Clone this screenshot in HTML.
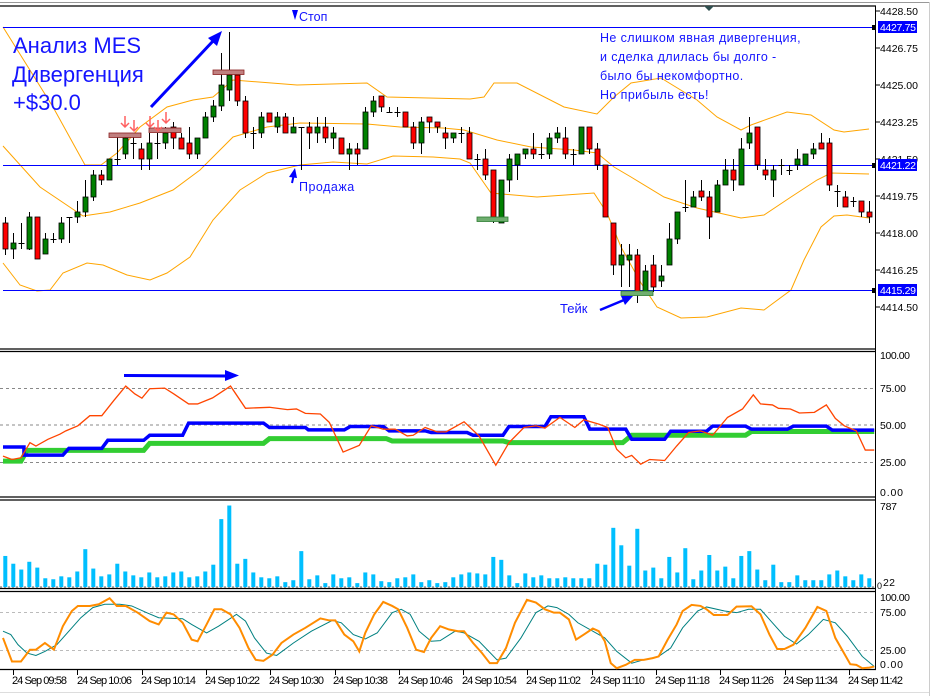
<!DOCTYPE html>
<html><head><meta charset="utf-8"><style>
html,body{margin:0;padding:0;background:#fff;width:934px;height:696px;overflow:hidden}
svg{display:block;font-family:"Liberation Sans","DejaVu Sans",sans-serif}
.ax{font-size:10.5px;fill:#000}
.tl{font-size:11px;fill:#000}
.ns{vector-effect:non-scaling-stroke}
</style></head><body>
<svg id="s" width="934" height="696" viewBox="0 0 934 696" xmlns="http://www.w3.org/2000/svg">
<rect width="934" height="696" fill="#fff"/>
<line x1="0" y1="2.5" x2="929" y2="2.5" stroke="#999" stroke-width="1"/>
<line x1="929.5" y1="2" x2="929.5" y2="696" stroke="#ccc" stroke-width="1"/>
<line x1="0" y1="692.5" x2="929" y2="692.5" stroke="#ddd" stroke-width="1"/>
<!-- frames -->
<line x1="0" y1="6" x2="876" y2="6" stroke="#000" stroke-width="1.2"/>
<line x1="875.5" y1="6" x2="875.5" y2="670" stroke="#000" stroke-width="1"/>
<line x1="0" y1="349" x2="876" y2="349" stroke="#000" stroke-width="1.2"/>
<line x1="0" y1="351.5" x2="876" y2="351.5" stroke="#000" stroke-width="1.2"/>
<line x1="0" y1="497" x2="876" y2="497" stroke="#000" stroke-width="1.2"/>
<line x1="0" y1="500" x2="876" y2="500" stroke="#000" stroke-width="1.2"/>
<line x1="0" y1="588.5" x2="876" y2="588.5" stroke="#000" stroke-width="1.2"/>
<line x1="0" y1="591.5" x2="876" y2="591.5" stroke="#000" stroke-width="1.2"/>
<line x1="0" y1="669.5" x2="876" y2="669.5" stroke="#000" stroke-width="1.2"/>
<polygon points="704,6 714,6 709,11" fill="#2f4f4f"/>

<!-- bollinger -->
<g fill="none" stroke="#ffa500" stroke-width="1">
<polyline points="3,27 53,107 85,165 101,165 117,153 140,127 167,107 193,100 213,97 233,80 297,85 367,83 387,97 470,99 484,97 494,83 517,83 564,107 597,114 614,97 631,83 661,78 697,100 717,117 741,130 751,125 787,112 811,115 834,130 844,132 869,129"/>
<polyline points="3,146 40,187 83,216 110,212 140,203 173,190 200,170 233,137 267,127 300,123 367,124 400,127 443,128 464,130 497,140 531,147 574,150 597,153 614,167 631,177 664,197 697,208 741,218 764,215 791,197 817,180 831,173 869,174"/>
<polyline points="3,263 20,285 37,291 50,290 63,273 87,263 103,265 127,275 150,280 167,273 190,257 213,220 240,190 267,173 300,165 333,162 367,164 393,156 433,157 460,159 470,163 491,193 537,197 594,193 607,213 621,247 641,283 657,307 681,318 707,317 741,308 764,310 791,290 804,260 821,227 834,216 847,215 869,218"/>
</g>
<!-- horizontal levels -->
<g stroke="#0000ff" stroke-width="1">
<line x1="3" y1="27.5" x2="876" y2="27.5"/>
<line x1="3" y1="165.5" x2="876" y2="165.5"/>
<line x1="3" y1="290.5" x2="876" y2="290.5"/>
</g>
<g fill="#000"><rect x="872" y="25" width="4" height="5"/><rect x="872" y="163" width="4" height="5"/><rect x="872" y="288" width="4" height="5"/></g>

<g id="candles"></g>

<!-- boxes -->
<rect x="109" y="133" width="32" height="4.5" fill="#c08080" stroke="#8b2020" stroke-width="0.8"/>
<rect x="149" y="128" width="32" height="4.5" fill="#c08080" stroke="#8b2020" stroke-width="0.8"/>
<rect x="213" y="70" width="31" height="4.5" fill="#c08080" stroke="#8b2020" stroke-width="0.8"/>
<rect x="477" y="217" width="31" height="4.5" fill="#6fae6f" stroke="#2e7d32" stroke-width="0.8"/>
<rect x="621" y="291" width="32" height="4.5" fill="#6fae6f" stroke="#2e7d32" stroke-width="0.8"/>

<!-- red arrows -->
<g stroke="#ff6060" stroke-width="1.5" fill="none">
<path d="M125,116 v11 M121,123 l4,4 l4,-4"/>
<path d="M134,120 v11 M130,127 l4,4 l4,-4"/>
<path d="M150,116 v11 M146,123 l4,4 l4,-4"/>
<path d="M158,120 v11 M154,127 l4,4 l4,-4"/>
<path d="M166,112 v11 M162,119 l4,4 l4,-4"/>
</g>
<!-- blue arrows -->
<g stroke="#0000ff" fill="#0000ff">
<line x1="151" y1="107" x2="214" y2="40" stroke-width="3"/>
<polygon points="222,31 208,38 217,46" stroke="none"/>
<line x1="292" y1="183" x2="294" y2="174" stroke-width="2"/>
<polygon points="295,168 289,177 297,178" stroke="none"/>
<line x1="600" y1="310" x2="624" y2="300" stroke-width="2.5"/>
<polygon points="633,296 621,296 625,305" stroke="none"/>
<line x1="124" y1="375.5" x2="226" y2="376" stroke-width="3"/>
<polygon points="239,375.5 225,370 225,381" stroke="none"/>
</g>
<polygon points="292,10 298,10 295,20" fill="#0000ff"/>

<!-- annotations -->
<g fill="#1515ff">
<text x="13" y="53" font-size="22">Анализ MES</text>
<text x="12" y="82" font-size="22">Дивергенция</text>
<text x="13" y="110" font-size="22">+$30.0</text>
<text x="299" y="21" font-size="12.5">Стоп</text>
<text x="299" y="191" font-size="12.5" letter-spacing="0.5">Продажа</text>
<text x="560" y="313" font-size="13">Тейк</text>
<g font-size="12.5" letter-spacing="0.4">
<text x="600" y="42">Не слишком явная дивергенция,</text>
<text x="600" y="61">и сделка длилась бы долго -</text>
<text x="600" y="80">было бы некомфортно.</text>
<text x="600" y="99">Но прибыль есть!</text>
</g>
</g>

<!-- price axis -->
<g class="ax" stroke="#000" stroke-width="1">
<line x1="876" y1="11" x2="880" y2="11"/><line x1="876" y1="48" x2="880" y2="48"/><line x1="876" y1="85" x2="880" y2="85"/><line x1="876" y1="122" x2="880" y2="122"/><line x1="876" y1="159" x2="880" y2="159"/><line x1="876" y1="196" x2="880" y2="196"/><line x1="876" y1="233" x2="880" y2="233"/><line x1="876" y1="270" x2="880" y2="270"/><line x1="876" y1="307" x2="880" y2="307"/>
</g>
<g class="ax" textLength="38">
<text x="880" y="15" textLength="38">4428.50</text>
<text x="880" y="52" textLength="38">4426.75</text>
<text x="880" y="89" textLength="38">4425.00</text>
<text x="880" y="126" textLength="38">4423.25</text>
<text x="880" y="163" textLength="38">4421.50</text>
<text x="880" y="200" textLength="38">4419.75</text>
<text x="880" y="237" textLength="38">4418.00</text>
<text x="880" y="274" textLength="38">4416.25</text>
<text x="880" y="311" textLength="38">4414.50</text>
</g>
<rect x="878" y="21" width="39" height="12" fill="#0000ff"/>
<rect x="878" y="159" width="39" height="12" fill="#0000ff"/>
<rect x="878" y="284" width="39" height="12" fill="#0000ff"/>
<g class="ax" style="fill:#fff">
<text x="880" y="31" textLength="36">4427.75</text>
<text x="880" y="169" textLength="36">4421.22</text>
<text x="880" y="294" textLength="36">4415.29</text>
</g>

<!-- panel 1 -->
<g stroke="#888" stroke-width="1" stroke-dasharray="3,3">
<line x1="0" y1="388.5" x2="876" y2="388.5"/>
<line x1="0" y1="425" x2="876" y2="425"/>
<line x1="0" y1="462.5" x2="876" y2="462.5"/>
<line x1="0" y1="612.5" x2="876" y2="612.5" stroke="#bbb"/>
<line x1="0" y1="650.5" x2="876" y2="650.5" stroke="#bbb"/>
<line x1="0" y1="587" x2="876" y2="587" stroke="#666" stroke-dasharray="2,2"/>
</g>
<g transform="translate(0,345) scale(0.5988,0.3367)" fill="none">
<polyline class="ns" stroke="#32cd32" stroke-width="5" points="5,345 35,345 45,313 240,313 250,292 440,292 450,278 645,278 655,285 840,285 850,290 1040,290 1055,268 1245,268 1255,257 1460,257"/>
<polyline class="ns" stroke="#0000ff" stroke-width="3.5" points="5,303 40,303 40,327 105,327 115,307 170,307 180,283 240,283 250,268 305,268 315,232 440,232 450,245 510,245 515,252 575,252 585,242 640,242 650,255 710,255 720,260 780,260 790,268 840,268 850,242 910,242 920,213 975,213 985,250 1045,250 1055,280 1110,280 1120,256 1180,256 1190,241 1245,241 1255,250 1315,250 1325,241 1380,241 1390,253 1460,253"/>
<polyline class="ns" stroke="#ff4500" stroke-width="1.3" points="5,330 20,340 35,335 50,290 60,300 80,280 100,265 110,255 130,240 150,210 170,210 190,165 210,122 225,145 237,158 250,130 275,128 290,145 315,175 330,175 355,157 385,122 410,188 450,185 480,192 495,190 510,203 535,205 550,230 573,318 600,298 620,240 640,250 660,250 680,270 690,268 710,245 730,258 745,258 775,228 800,270 828,357 850,290 875,245 895,240 910,247 935,215 960,245 975,222 1000,235 1015,245 1030,310 1045,335 1055,328 1070,354 1085,340 1110,343 1130,300 1150,260 1170,255 1190,268 1215,215 1240,190 1258,148 1270,175 1290,178 1300,188 1320,190 1335,202 1360,200 1380,178 1395,218 1410,240 1430,255 1445,312 1460,312"/>
</g>
<g class="ax">
<text x="880" y="359" textLength="30">100.00</text>
<text x="880" y="392" textLength="26">75.00</text>
<text x="880" y="429" textLength="26">50.00</text>
<text x="880" y="466" textLength="26">25.00</text>
<text x="880" y="496" textLength="23">0.00</text>
<text x="880" y="510" textLength="17">787</text>
<text x="883" y="586" textLength="12">22</text>
<text x="877" y="589" font-size="9">0</text>
<text x="880" y="601" textLength="30">100.00</text>
<text x="880" y="616" textLength="26">75.00</text>
<text x="880" y="654" textLength="26">25.00</text>
<text x="880" y="668" textLength="23">0.00</text>
</g>
<g id="vol"></g>
<!-- stochastic -->
<g transform="translate(0,345) scale(0.5988,0.3367)" fill="none">
<polyline class="ns" stroke="#008080" stroke-width="1" points="5,850 18,860 30,890 45,915 60,922 75,910 95,890 115,850 135,810 155,780 175,770 200,770 220,775 245,795 265,810 290,812 305,813 320,830 345,855 365,835 395,800 410,820 425,870 445,915 462,922 490,885 520,850 555,818 570,825 590,860 610,873 630,855 655,795 670,785 685,800 700,850 720,880 735,878 760,850 775,855 800,880 830,935 845,930 870,870 895,795 915,775 930,780 950,800 965,825 990,850 1010,870 1030,910 1055,945 1075,935 1100,925 1120,900 1140,840 1165,790 1180,778 1210,790 1230,795 1250,785 1270,785 1290,825 1310,865 1330,888 1350,860 1375,815 1395,825 1415,865 1440,925 1460,955"/>
<polyline class="ns" stroke="#ff8c00" stroke-width="2" points="5,870 20,940 35,940 50,905 60,905 75,885 90,905 105,835 120,790 130,775 150,775 165,770 183,752 195,775 210,775 230,795 250,820 265,830 278,795 290,800 305,825 320,875 330,880 345,830 358,785 370,785 385,800 400,840 415,900 427,935 440,938 455,920 470,885 490,860 510,840 535,812 550,818 560,818 575,860 590,880 600,910 610,855 625,800 640,763 655,775 665,785 680,840 695,905 708,912 720,870 735,835 750,845 765,850 775,850 790,885 805,915 818,945 830,945 845,900 860,825 880,757 895,765 910,785 925,795 935,795 950,815 962,875 975,860 990,842 1000,850 1010,880 1020,945 1030,960 1045,950 1060,935 1075,935 1090,930 1100,925 1115,875 1130,830 1140,790 1155,772 1170,775 1180,785 1192,802 1215,802 1230,777 1255,776 1270,800 1285,860 1298,903 1310,903 1325,890 1345,840 1365,778 1380,790 1395,870 1420,948 1430,950 1440,960 1452,958 1460,955"/>
</g>
<!-- time axis -->
<g id="tax"></g>
<g class="tl">
<text x="12" y="684" textLength="55">24 Sep 09:58</text>
<text x="77" y="684" textLength="55">24 Sep 10:06</text>
<text x="141" y="684" textLength="55">24 Sep 10:14</text>
<text x="205" y="684" textLength="55">24 Sep 10:22</text>
<text x="269" y="684" textLength="55">24 Sep 10:30</text>
<text x="333" y="684" textLength="55">24 Sep 10:38</text>
<text x="398" y="684" textLength="55">24 Sep 10:46</text>
<text x="462" y="684" textLength="55">24 Sep 10:54</text>
<text x="526" y="684" textLength="55">24 Sep 11:02</text>
<text x="590" y="684" textLength="55">24 Sep 11:10</text>
<text x="655" y="684" textLength="55">24 Sep 11:18</text>
<text x="719" y="684" textLength="55">24 Sep 11:26</text>
<text x="783" y="684" textLength="55">24 Sep 11:34</text>
<text x="848" y="684" textLength="55">24 Sep 11:42</text>
</g>
</svg>
<script>
var NS="http://www.w3.org/2000/svg";
function el(p,t,a){var e=document.createElementNS(NS,t);for(var k in a)e.setAttribute(k,a[k]);p.appendChild(e);return e;}
var C="r 223 249 217 255|g 243 249 233 259|d 243 243 223 249|g 217 249 212 250|r 217 259 217 259|g 239 254 233 254|d 239 239 233 243|g 223 239 217 243|d 217 217 217 243|g 212 217 201 223|g 197 212 180 217|g 175 197 170 201|r 175 180 170 185|g 159 180 159 180|d 159 159 137 165|g 138 154 133 159|d 143 143 137 159|r 149 159 143 170|g 143 159 133 170|d 143 143 133 159|g 133 143 127 149|r 127 138 122 149|r 138 149 133 149|r 143 154 127 159|g 138 154 138 159|g 117 138 112 138|g 106 117 100 122|g 85 106 53 111|g 75 90 32 101|r 75 101 75 106|r 101 133 96 138|d 133 133 127 149|g 117 133 112 138|r 113 122 113 122|g 117 127 112 133|r 117 133 113 133|g 127 133 117 133|d 127 127 127 170|r 127 133 122 149|g 127 133 117 143|r 127 138 117 143|g 133 138 127 149|r 138 154 138 154|g 149 154 143 170|r 149 154 143 165|g 112 149 107 149|g 101 112 96 117|r 96 107 96 112|d 112 112 107 112|d 112 112 107 117|r 112 127 112 127|r 127 143 122 149|g 122 143 117 154|r 117 122 117 133|r 122 127 122 133|r 133 138 127 149|g 133 138 133 143|d 133 133 127 143|r 133 159 127 159|d 159 159 154 170|r 159 175 149 180|r 170 217 170 223|g 180 223 180 223|g 159 180 154 192|g 154 165 154 180|g 149 154 149 159|r 149 154 133 159|d 154 154 143 159|g 138 154 133 159|g 133 138 127 143|r 138 154 127 159|d 154 154 149 165|g 127 154 127 154|r 127 149 127 154|r 149 165 143 170|r 165 217 165 217|r 223 265 223 275|g 255 265 244 287|g 255 260 244 287|r 255 292 249 303|g 271 292 265 292|r 265 287 255 292|g 276 281 265 287|g 239 265 223 265|g 212 239 212 244|d 207 207 180 212|g 197 207 191 207|r 191 197 180 201|r 197 217 191 239|g 185 212 180 212|g 170 185 159 185|r 170 180 159 191|g 149 185 138 185|g 133 143 117 149|r 127 165 127 170|r 170 175 159 180|g 170 180 165 197|d 165 165 159 175|d 170 170 165 175|g 159 165 149 170|g 154 165 154 165|g 149 154 143 159|r 143 149 133 149|r 143 185 138 191|d 191 191 185 207|r 197 207 191 207|d 201 201 197 207|r 201 212 201 217|r 212 217 201 223".split("|");
var cg=document.getElementById("candles");
C.forEach(function(s,i){var p=s.split(" ");var x=Math.round(5.3+8*i)+0.5;var bt=+p[1],bb=+p[2],wt=+p[3],wb=+p[4];
 el(cg,"line",{x1:x,y1:wt,x2:x,y2:wb,stroke:"#000","stroke-width":1});
 if(p[0]=="d"){el(cg,"line",{x1:x-3,y1:bt+0.5,x2:x+3,y2:bt+0.5,stroke:"#000","stroke-width":1});}
 else{el(cg,"rect",{x:x-2.5,y:bt,width:5,height:Math.max(bb-bt,2),fill:p[0]=="g"?"#008000":"#ff0000",stroke:"#000","stroke-width":0.8});}
});
var V=[32,24,18,26,20,9,8,11,10,16,39,19,11,13,24,16,12,10,15,10,11,15,16,10,11,16,23,70,84,24,29,15,10,9,11,5,7,37,8,12,4,13,9,10,4,15,13,6,5,9,10,13,5,7,4,5,10,13,15,14,13,31,28,12,4,14,10,12,9,9,10,9,9,9,24,23,61,43,22,60,17,20,9,31,15,40,8,17,33,17,21,9,32,37,18,7,23,5,5,12,7,7,7,13,17,11,7,13,9];
var vg=document.getElementById("vol");
V.forEach(function(h,i){var x=5.3+8*i;h=h*0.97;el(vg,"rect",{x:x-2,y:587-h,width:4,height:h,fill:"#00bfff"});});
var tg=document.getElementById("tax");
for(var k=0;k<14;k++){var x=Math.round(13+64.3*k)+0.5;el(tg,"line",{x1:x,y1:670,x2:x,y2:675,stroke:"#000","stroke-width":1});}
</script>
</body></html>
